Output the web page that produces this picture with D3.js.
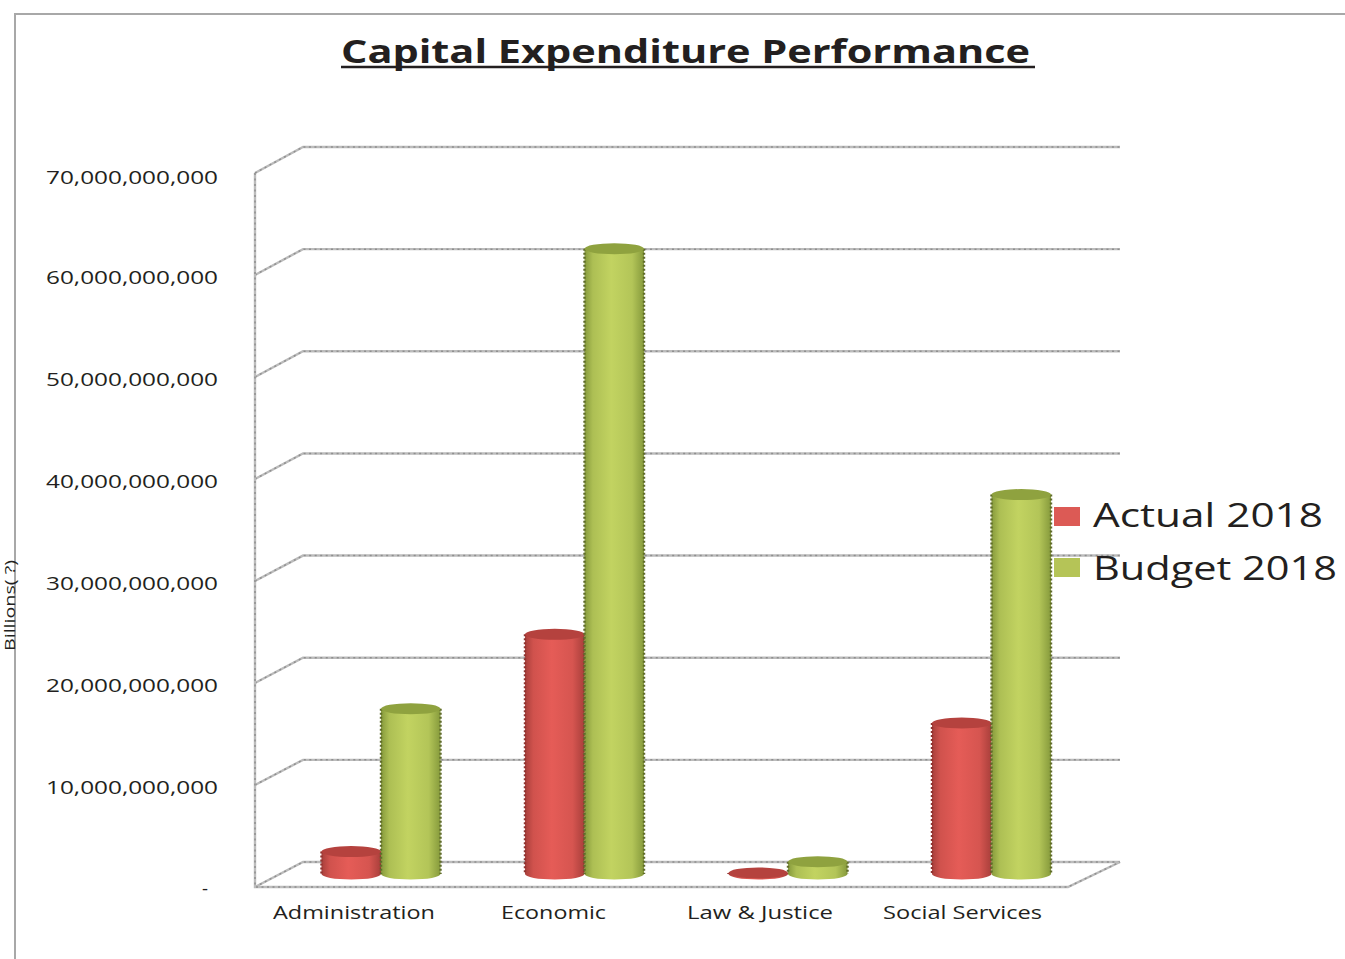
<!DOCTYPE html>
<html>
<head>
<meta charset="utf-8">
<script src="https://cdnjs.cloudflare.com/ajax/libs/d3/7.8.5/d3.min.js"></script>
<style>
html,body{margin:0;padding:0;background:#fff;overflow:hidden}
svg{display:block}
text{font-family:"Open Sans","Noto Sans",sans-serif;fill:#231f20}
</style>
</head>
<body>
<svg id="c" width="1345" height="959"></svg>
<script>
const chartTitle = "Capital Expenditure Performance";
const categories = ["Administration","Economic","Law & Justice","Social Services"];
const seriesNames = ["Actual 2018","Budget 2018"];
const actual2018 = [2.2e9, 23.5e9, 0.1e9, 14.8e9];
const budget2018 = [16.2e9, 61.3e9, 1.2e9, 37.2e9];
const yTicks = [0,1e10,2e10,3e10,4e10,5e10,6e10,7e10];
const yTitle = "Billions( ?)";

const svg = d3.select("#c");
const defs = svg.append("defs");
function cyl(id, edge, mid){
  const g = defs.append("linearGradient").attr("id",id);
  [[0,edge],[.14,d3.interpolateRgb(edge,mid)(.65)],[.45,mid],[.8,d3.interpolateRgb(edge,mid)(.75)],[1,edge]]
    .forEach(s=>g.append("stop").attr("offset",s[0]).attr("stop-color",s[1]));
}
cyl("gActual","#a83f3b","#e55c57");
cyl("gBudget","#869a3c","#c2d361");

// chart frame
svg.append("path").attr("d","M15,959V14H1345").attr("fill","none").attr("stroke","#a8a8a8").attr("stroke-width",2);

// the three planes of the 3-D box share one value scale, shifted in depth
const yFront = d3.scaleLinear().domain([0,7e10]).range([887,173]);
const yBack  = d3.scaleLinear().domain([0,7e10]).range([862,147]);
const yBar   = d3.scaleLinear().domain([0,7e10]).range([874,160]);
const xFront = [255,1068], xBack = [303,1120];

const grid = svg.append("g");
function gridLine(d){
  [["#bcbcbc",2.4,null],["#8f8f8f",1.5,"2 3.5"]].forEach(s=>
    grid.append("path").attr("d",d).attr("fill","none")
      .attr("stroke",s[0]).attr("stroke-width",s[1]).attr("stroke-dasharray",s[2]));
}
yTicks.forEach(t=>{
  gridLine(`M${xFront[0]},${yFront(t)}L${xBack[0]},${yBack(t)}H${xBack[1]}`);
});
gridLine(`M${xFront[0]},${yFront(7e10)}V${yFront(0)}H${xFront[1]}L${xBack[1]},${yBack(0)}`);

// value axis labels
const fmt = d3.format(",");
const yAxis = d3.axisLeft(yFront).tickValues(yTicks).tickSize(0).tickPadding(0)
  .tickFormat(d=> d===0 ? "-" : fmt(d));
const axG = svg.append("g").attr("transform","translate(218,0)").call(yAxis);
axG.select(".domain").remove();
axG.selectAll("text")
  .style("font-family",'"Open Sans","Noto Sans",sans-serif')
  .style("font-size","19px").style("fill","#231f20")
  .attr("dy",d=> d===0 ? "0.42em" : d===7e10 ? "0.55em" : "0.45em")
  .attr("x",d=> d===0 ? -10 : 0)
  .attr("textLength",d=> d===0 ? 6 : 172)
  .attr("lengthAdjust","spacingAndGlyphs");

// cylinders
const x0 = d3.scaleBand().domain(categories).range([279.25,1093.25]).paddingInner(.415).paddingOuter(.2075);
const x1 = d3.scaleBand().domain(seriesNames).range([0,x0.bandwidth()]);
const ry = 5.5;
const rows = [
  {name:seriesNames[0],vals:actual2018,fill:"url(#gActual)",top:"#b5423e",edge:"#8f3431"},
  {name:seriesNames[1],vals:budget2018,fill:"url(#gBudget)",top:"#8fa23f",edge:"#5f6b2b"}
];
categories.forEach((c,i)=>{
  rows.forEach(r=>{
    const L = x0(c)+x1(r.name), w = x1.bandwidth(), rx = w/2, cx = L+rx;
    const yt = yBar(r.vals[i]), yb = yBar(0);
    const g = svg.append("g");
    g.append("path")
      .attr("d",`M${L},${yt}V${yb}A${rx},${ry} 0 0 0 ${L+w},${yb}V${yt}Z`)
      .attr("fill",r.fill);
    g.append("path")
      .attr("d",`M${L},${yt}V${yb}M${L+w},${yt}V${yb}`)
      .attr("fill","none").attr("stroke",r.edge).attr("stroke-width",2.4).attr("stroke-dasharray","2 2");
    g.append("ellipse").attr("cx",cx).attr("cy",yt).attr("rx",rx).attr("ry",ry).attr("fill",r.top);
  });
});

// category labels
const catSpan = [[273,435],[501,606],[687,833],[883,1042]];
svg.append("g").selectAll("text").data(categories).join("text")
  .attr("x",(d,i)=>catSpan[i][0]).attr("y",919)
  .attr("font-size",18)
  .attr("textLength",(d,i)=>catSpan[i][1]-catSpan[i][0])
  .attr("lengthAdjust","spacingAndGlyphs")
  .text(d=>d);

// title
svg.append("text").attr("x",341).attr("y",63).attr("font-size",32).attr("font-weight",700)
  .attr("textLength",689).attr("lengthAdjust","spacingAndGlyphs").text(chartTitle);
svg.append("line").attr("x1",341).attr("x2",1035).attr("y1",67).attr("y2",67).attr("stroke","#231f20").attr("stroke-width",2.5);

// axis title
svg.append("text").attr("transform","translate(15,651) rotate(-90)").attr("font-size",14)
  .attr("textLength",91).attr("lengthAdjust","spacingAndGlyphs").text(yTitle);

// legend
const legColor = ["#dc5a55","#b5c457"];
const legBox = [507,558], legBase = [527,580], legLen = [230,244];
const leg = svg.append("g");
seriesNames.forEach((n,i)=>{
  leg.append("rect").attr("x",1054).attr("y",legBox[i]).attr("width",26).attr("height",19).attr("fill",legColor[i]);
  leg.append("text").attr("x",1093).attr("y",legBase[i]).attr("font-size",33)
    .attr("textLength",legLen[i]).attr("lengthAdjust","spacingAndGlyphs").text(n);
});
</script>
</body>
</html>
